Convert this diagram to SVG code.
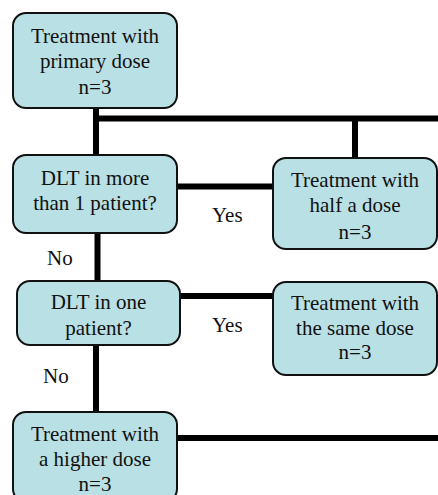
<svg xmlns="http://www.w3.org/2000/svg" width="438" height="495" viewBox="0 0 438 495">
<style>
.box{fill:#b9e0e4;stroke:#111;stroke-width:2}
.c{stroke:#000;stroke-width:6;fill:none}
.t{text-anchor:middle}
</style>
<rect width="438" height="495" fill="#fff"/>
<g id="connectors">
<line class="c" x1="96" y1="108" x2="96" y2="155"/>
<line class="c" x1="93" y1="118.5" x2="438" y2="118.5"/>
<line class="c" x1="355" y1="118" x2="355" y2="158"/>
<line class="c" x1="177" y1="186.5" x2="273" y2="186.5"/>
<line class="c" x1="97.5" y1="233" x2="97.5" y2="281"/>
<line class="c" x1="180" y1="296" x2="273" y2="296"/>
<line class="c" x1="96" y1="345" x2="96" y2="412"/>
<line class="c" x1="177" y1="438" x2="438" y2="438"/>
</g>
<g id="nodes" font-family="Liberation Serif, serif" font-size="21" fill="#111">
<g id="n1">
<rect class="box" x="13" y="13" width="164" height="95" rx="13"/>
<text class="t" x="95" y="43">Treatment with</text>
<text class="t" x="95" y="68">primary dose</text>
<text class="t" x="95" y="94">n=3</text>
</g>
<g id="n2">
<rect class="box" x="13" y="155" width="164" height="78" rx="13"/>
<text class="t" x="95" y="185">DLT in more</text>
<text class="t" x="95" y="210">than 1 patient?</text>
</g>
<g id="n3">
<rect class="box" x="273" y="158" width="164" height="91" rx="13"/>
<text class="t" x="355" y="187">Treatment with</text>
<text class="t" x="355" y="212">half a dose</text>
<text class="t" x="355" y="239">n=3</text>
</g>
<g id="n4">
<rect class="box" x="17" y="281" width="163" height="64" rx="13"/>
<text class="t" x="98.5" y="309">DLT in one</text>
<text class="t" x="98.5" y="335">patient?</text>
</g>
<g id="n5">
<rect class="box" x="273" y="282" width="164" height="93" rx="13"/>
<text class="t" x="355" y="310">Treatment with</text>
<text class="t" x="355" y="335">the same dose</text>
<text class="t" x="355" y="359">n=3</text>
</g>
<g id="n6">
<rect class="box" x="13" y="412" width="164" height="90" rx="13"/>
<text class="t" x="95" y="441">Treatment with</text>
<text class="t" x="95" y="466">a higher dose</text>
<text class="t" x="95" y="491">n=3</text>
</g>
</g>
<g id="labels" font-family="Liberation Serif, serif" font-size="21" fill="#111">
<text x="212" y="222">Yes</text>
<text x="212" y="332">Yes</text>
<text x="47" y="265">No</text>
<text x="43" y="383">No</text>
</g>
</svg>
